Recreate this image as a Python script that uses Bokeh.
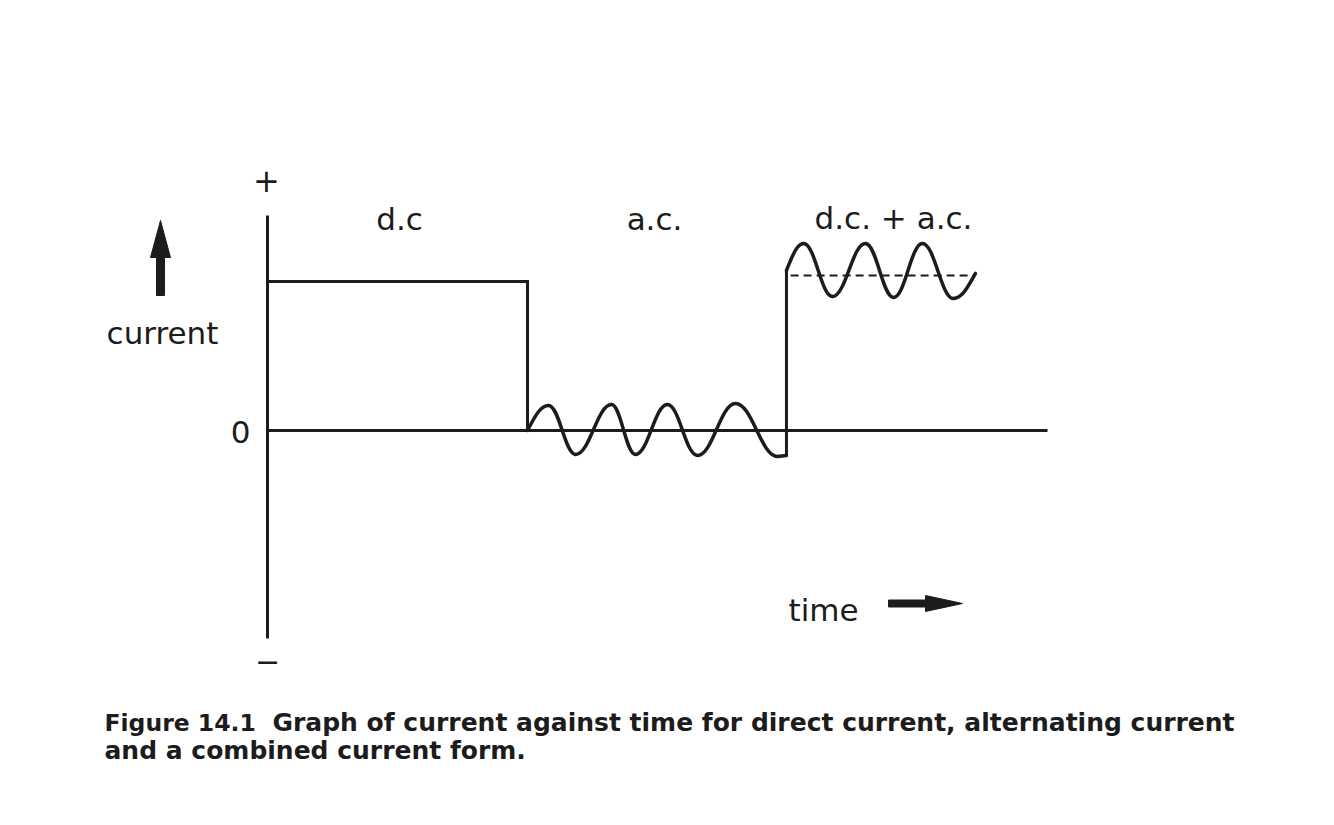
from bokeh.plotting import figure
from bokeh.models import Range1d, Label
from bokeh.embed import file_html
from bokeh.resources import INLINE

# ---------------- data (time in segment units, current in d.c. units) ----------------
time_axis = [0.0, 3.0]
current_axis = [-1.396, 1.443]

dc_time = [0.0, 1.0, 1.0]
dc_current = [1.0, 1.0, 0.0]

ac_time = [1.0, 1.081, 1.185, 1.323, 1.415, 1.538, 1.654, 1.800, 1.962, 1.996]
ac_current = [0.0, 0.168, -0.161, 0.174, -0.161, 0.174, -0.168, 0.181, -0.174, -0.168]
ac_kind = ["cross", "ext", "ext", "ext", "ext", "ext", "ext", "ext", "ext", "ext"]

combo_time = [1.996, 2.062, 2.173, 2.300, 2.408, 2.519, 2.638, 2.723]
combo_current = [1.074, 1.255, 0.899, 1.255, 0.893, 1.255, 0.886, 1.054]
combo_kind = ["cross", "ext", "ext", "ext", "ext", "ext", "ext", "cross"]

mean_time = [2.012, 2.723]
mean_current = [1.04, 1.04]

section_labels = ["d.c", "a.c.", "d.c. + a.c."]
caption_1a = "Figure 14.1"
caption_1b = "Graph of current against time for direct current, alternating current"
caption_2 = "and a combined current form."

# ---------------- layout helpers (reference pixel -> data) ----------------
W, H = 1318, 809
PX0, PY0 = 267.0, 430.0
SX, SY = 260.0, 149.0


def tx(px):
    return (px - PX0) / SX


def cy(py):
    return (PY0 - py) / SY


INK = "#1c1c1c"
FONT = "DejaVu Sans"

p = figure(width=W, height=H, x_range=Range1d(tx(0), tx(W)),
           y_range=Range1d(cy(H), cy(0)),
           x_axis_type=None, y_axis_type=None,
           toolbar_location=None, output_backend="svg",
           min_border=0, min_border_left=0, min_border_right=0,
           min_border_top=0, min_border_bottom=0)
p.outline_line_color = None
p.grid.visible = False
p.background_fill_color = "white"
p.border_fill_color = "white"

# axes
p.line(x=time_axis, y=[0, 0], line_width=3, line_color=INK)
p.line(x=[0, 0], y=current_axis, line_width=3, line_color=INK)

# d.c. step
p.line(x=dc_time, y=dc_current, line_width=3, line_color=INK, line_join="miter")


def wave(ts, cs, kinds):
    x0, y0, x1, y1, cx0, cy0, cx1, cy1 = [], [], [], [], [], [], [], []
    for i in range(len(ts) - 1):
        a, b = ts[i], ts[i + 1]
        ya, yb = cs[i], cs[i + 1]
        dx, dy = b - a, yb - ya
        x0.append(a); y0.append(ya); x1.append(b); y1.append(yb)
        if kinds[i] == "ext":
            cx0.append(a + 0.4 * dx); cy0.append(ya)
        else:
            cx0.append(a + dx / 3); cy0.append(ya + 0.524 * dy)
        if kinds[i + 1] == "ext":
            cx1.append(b - 0.4 * dx); cy1.append(yb)
        else:
            cx1.append(b - dx / 3); cy1.append(yb - 0.524 * dy)
    p.bezier(x0=x0, y0=y0, x1=x1, y1=y1, cx0=cx0, cy0=cy0, cx1=cx1, cy1=cy1,
             line_width=3.5, line_color=INK, line_cap="round")


wave(ac_time, ac_current, ac_kind)
# step up between a.c. and combined form
p.line(x=[ac_time[-1], combo_time[0]], y=[ac_current[-1], combo_current[0]],
       line_width=3, line_color=INK)
wave(combo_time, combo_current, combo_kind)

# mean (d.c.) level of the combined current
p.line(x=mean_time, y=mean_current, line_width=2, line_color=INK, line_dash="8 5")

# arrows
up = [(156, 295), (164, 295), (164, 257), (170, 257), (160, 220), (150, 257), (156, 257)]
p.patch(x=[tx(a) for a, b in up], y=[cy(b) for a, b in up], fill_color=INK, line_color=INK, line_width=1)
rt = [(888, 599.5), (925, 599.5), (925, 595), (962, 603), (925, 611), (925, 606.5), (888, 606.5)]
p.patch(x=[tx(a) for a, b in rt], y=[cy(b) for a, b in rt], fill_color=INK, line_color=INK, line_width=1)


def lab(text, px, py, size=31, align="center", baseline="alphabetic", bold=False):
    p.add_layout(Label(x=tx(px), y=cy(py), text=text, text_font=FONT,
                       text_font_size=f"{size}px", text_align=align,
                       text_baseline=baseline, text_color=INK,
                       text_font_style="bold" if bold else "normal"))


lab("+", 266, 180, size=32, baseline="middle")
lab("\u2212", 267, 660, size=30, baseline="middle")
lab("0", 240, 431, baseline="middle")
lab("current", 162, 332)
lab(section_labels[0], 399, 218)
lab(section_labels[1], 654, 218)
lab(section_labels[2], 893, 217)
lab("time", 788, 609, align="left")

lab(caption_1a, 104, 722, size=23.5, align="left", bold=True)
lab(caption_1b, 272, 722, size=25.0, align="left", bold=True)
lab(caption_2, 104, 750, size=25.0, align="left", bold=True)

open("out.html", "w").write(file_html(p, INLINE))
